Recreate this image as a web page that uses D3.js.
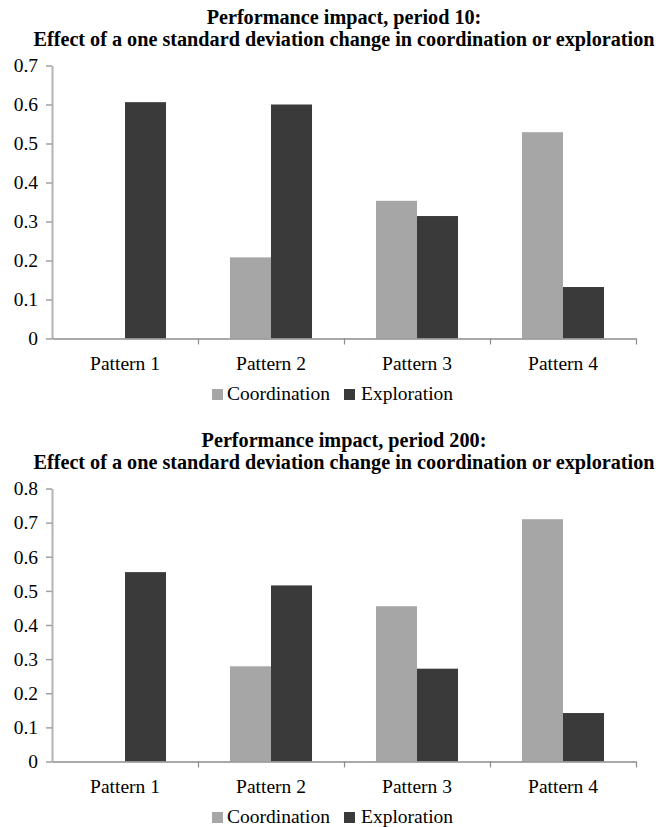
<!DOCTYPE html>
<html>
<head>
<meta charset="utf-8">
<script src="https://cdn.jsdelivr.net/npm/d3@7"></script>
<style>
  html, body { margin: 0; padding: 0; background: #fff; }
  svg { display: block; }
  text { font-family: "Liberation Serif", "Times New Roman", serif; fill: #000; }
</style>
</head>
<body>
<svg id="chart" width="656" height="827"></svg>
<script>
// Categories and series shared by both panels
const patterns = ["Pattern 1", "Pattern 2", "Pattern 3", "Pattern 4"];
const seriesNames = ["Coordination", "Exploration"];
const seriesColors = ["#a6a6a6", "#3a3a3a"];

// Period 10 values
const period10Coordination = [0, 0.208, 0.353, 0.529];
const period10Exploration = [0.606, 0.600, 0.314, 0.132];
const period10Ticks = [0, 0.1, 0.2, 0.3, 0.4, 0.5, 0.6, 0.7];

// Period 200 values
const period200Coordination = [0, 0.279, 0.455, 0.710];
const period200Exploration = [0.555, 0.516, 0.272, 0.142];
const period200Ticks = [0, 0.1, 0.2, 0.3, 0.4, 0.5, 0.6, 0.7, 0.8];

const panels = [
  { title: "Performance impact, period 10:", coord: period10Coordination, expl: period10Exploration, ticks: period10Ticks, top: 0 },
  { title: "Performance impact, period 200:", coord: period200Coordination, expl: period200Exploration, ticks: period200Ticks, top: 423 }
];
const subtitle = "Effect of a one standard deviation change in coordination or exploration";

const svg = d3.select("#chart");
const left = 52, right = 636, plotTop = 65.5, plotBottom = 338.5;
const serif = "'Liberation Serif', 'Times New Roman', serif";

panels.forEach(p => {
  const g = svg.append("g").attr("transform", `translate(0,${p.top})`);

  // Titles
  g.append("text").attr("x", 344).attr("y", 24).attr("text-anchor", "middle")
    .style("font-size", "20.2px").style("font-weight", "bold").text(p.title);
  g.append("text").attr("x", 344).attr("y", 45.5).attr("text-anchor", "middle")
    .style("font-size", "20.2px").style("font-weight", "bold").text(subtitle);

  const yMax = p.ticks[p.ticks.length - 1];
  const y = d3.scaleLinear().domain([0, yMax]).range([plotBottom, plotTop]);
  const x0 = d3.scaleBand().domain(patterns).range([left, right]).paddingInner(0).paddingOuter(0);
  const x1 = d3.scaleBand().domain(seriesNames).range([0, x0.bandwidth()]).paddingInner(0).paddingOuter(0.78);
  const bounds = d3.scaleLinear().domain([0, patterns.length]).range([left, right]);

  // Bars
  const rows = patterns.map((c, i) => ({ cat: c, vals: [p.coord[i], p.expl[i]] }));
  const grp = g.append("g").selectAll("g").data(rows).join("g")
    .attr("transform", d => `translate(${x0(d.cat)},0)`);
  grp.selectAll("rect").data(d => d.vals.map((v, k) => ({ key: seriesNames[k], v, k })))
    .join("rect")
    .attr("x", d => x1(d.key))
    .attr("width", x1.bandwidth())
    .attr("y", d => y(d.v))
    .attr("height", d => y(0) - y(d.v))
    .attr("fill", d => seriesColors[d.k]);

  // Y axis
  const yAxis = g.append("g").attr("transform", `translate(${left},0)`)
    .call(d3.axisLeft(y).tickValues(p.ticks).tickFormat(d => d === 0 ? "0" : d3.format(".1f")(d))
      .tickSize(6).tickSizeOuter(0).tickPadding(8));
  yAxis.select(".domain").attr("stroke", "#b4b4b4").attr("stroke-width", 2);
  yAxis.selectAll(".tick line").attr("stroke", "#a0a0a0").attr("stroke-width", 1.5);
  yAxis.selectAll(".tick text").style("font-size", "19.5px").style("font-family", serif).attr("fill", "#000");

  // X axis: boundary ticks between categories
  const xAxis = g.append("g").attr("transform", `translate(0,${plotBottom})`)
    .call(d3.axisBottom(bounds).ticks(patterns.length).tickFormat("").tickSize(6).tickSizeOuter(0));
  xAxis.select(".domain").attr("stroke", "#8c8c8c").attr("stroke-width", 1.5);
  xAxis.selectAll(".tick line").attr("stroke", "#8c8c8c").attr("stroke-width", 1.2);
  xAxis.selectAll(".tick").filter(d => d === 0).remove();

  // Category labels
  const catAxis = g.append("g").attr("transform", `translate(0,${plotBottom})`)
    .call(d3.axisBottom(x0).tickSize(0).tickPadding(18));
  catAxis.select(".domain").remove();
  catAxis.selectAll(".tick text").style("font-size", "19.5px").style("font-family", serif).attr("fill", "#000");

  // Legend
  const legendItems = [{ name: seriesNames[0], sx: 212, tx: 227 }, { name: seriesNames[1], sx: 344, tx: 361 }];
  legendItems.forEach((it, k) => {
    g.append("rect").attr("x", it.sx).attr("y", 389).attr("width", 11).attr("height", 11).attr("fill", seriesColors[k]);
    g.append("text").attr("x", it.tx).attr("y", 400).style("font-size", "19.5px").text(it.name);
  });
});
</script>
</body>
</html>
